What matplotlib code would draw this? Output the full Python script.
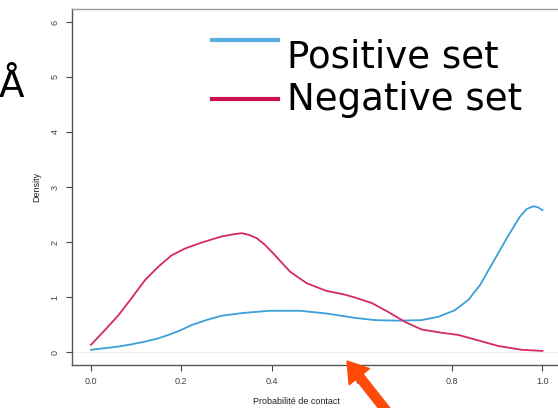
import matplotlib
matplotlib.use("Agg")
import matplotlib.pyplot as plt
from matplotlib.patches import FancyArrow

# density estimates
x_pos = [0.0, 0.031, 0.061, 0.090, 0.120, 0.150, 0.171, 0.197, 0.223, 0.255,
         0.289, 0.337, 0.396, 0.463, 0.522, 0.585, 0.629, 0.681, 0.732, 0.769,
         0.806, 0.836, 0.862, 0.891, 0.921, 0.950, 0.965, 0.980, 0.990, 1.0]
y_pos = [0.04, 0.07, 0.10, 0.14, 0.19, 0.25, 0.31, 0.39, 0.49, 0.58,
         0.66, 0.71, 0.75, 0.75, 0.70, 0.62, 0.58, 0.57, 0.58, 0.64,
         0.76, 0.95, 1.22, 1.64, 2.07, 2.46, 2.60, 2.65, 2.63, 2.58]

x_neg = [0.0, 0.031, 0.061, 0.090, 0.120, 0.149, 0.179, 0.208, 0.245, 0.289,
         0.315, 0.334, 0.350, 0.367, 0.385, 0.404, 0.441, 0.478, 0.522, 0.559,
         0.585, 0.622, 0.658, 0.695, 0.732, 0.777, 0.814, 0.858, 0.902, 0.954,
         1.0]
y_neg = [0.13, 0.40, 0.67, 0.98, 1.31, 1.55, 1.76, 1.88, 1.99, 2.10,
         2.14, 2.16, 2.13, 2.07, 1.95, 1.79, 1.46, 1.25, 1.11, 1.05,
         0.99, 0.89, 0.73, 0.55, 0.41, 0.35, 0.31, 0.21, 0.11, 0.04,
         0.02]

x_ticks = [0.0, 0.2, 0.4, 0.6, 0.8, 1.0]
y_ticks = [0, 1, 2, 3, 4, 5, 6]

blue = "#3d9fd8"
red = "#d42a5c"

fig = plt.figure(figsize=(5.58, 4.08), dpi=100)
W, H = 558.0, 408.0
# axes box in pixels: left 72, right past the edge, top 9, bottom 365
ax = fig.add_axes([72 / W, 1 - 365 / H, (561 - 72) / W, (365 - 9) / H])

ax.axhline(0, color="#eeeeee", lw=0.8, zorder=1)
ax.plot(x_pos, y_pos, color=blue, lw=1.3, zorder=3, solid_joinstyle="round")
ax.plot(x_neg, y_neg, color=red, lw=1.3, zorder=3, solid_joinstyle="round")

ax.set_xlim(-0.042, 1.041)
ax.set_ylim(-0.236, 6.236)
ax.set_xticks(x_ticks)
ax.set_xticklabels(["%.1f" % v for v in x_ticks])
ax.set_yticks(y_ticks)
ax.set_yticklabels([str(v) for v in y_ticks], rotation=90, va="center")
ax.tick_params(axis="both", labelsize=6.5, colors="#444444", length=4,
               width=0.8, pad=5)
for lab in ax.get_xticklabels() + ax.get_yticklabels():
    lab.set_family("Liberation Sans")
for side in ["left", "bottom"]:
    ax.spines[side].set_color("#555555")
    ax.spines[side].set_linewidth(1.0)
for side in ["top", "right"]:
    ax.spines[side].set_color("#999999")
    ax.spines[side].set_linewidth(1.0)

fig.text(296 / W, 1 - 401 / H, "Probabilité de contact", fontsize=6.5,
         family="Liberation Sans", color="#222222", ha="center", va="center")
fig.text(37 / W, 1 - 187 / H, "Density", fontsize=6.5, rotation=90,
         family="Liberation Sans", color="#222222", ha="center", va="center")

# legend drawn by hand, big text
fig.lines.append(plt.Line2D([212 / W, 278 / W], [1 - 40 / H, 1 - 40 / H],
                            color="#5aade0", lw=3, transform=fig.transFigure))
fig.lines.append(plt.Line2D([212 / W, 278 / W], [1 - 99 / H, 1 - 99 / H],
                            color="#cc1150", lw=3, transform=fig.transFigure))
fig.text(287 / W, 1 - 68 / H, "Positive set", fontsize=26.7, ha="left",
         va="baseline", color="black")
fig.text(287 / W, 1 - 110 / H, "Negative set", fontsize=26.7, ha="left",
         va="baseline", color="black")

fig.text(24 / W, 1 - 97 / H, "Å", fontsize=27, ha="right", va="baseline",
         color="black")

# orange arrow pointing at the axis
arr = FancyArrow(3.92, -0.10, -0.45, 0.57, width=0.09, head_width=0.26,
                 head_length=0.20, length_includes_head=True,
                 color="#ff4a0a", transform=fig.dpi_scale_trans, zorder=10)
fig.patches.append(arr)

fig.savefig("out.png", dpi=100)
